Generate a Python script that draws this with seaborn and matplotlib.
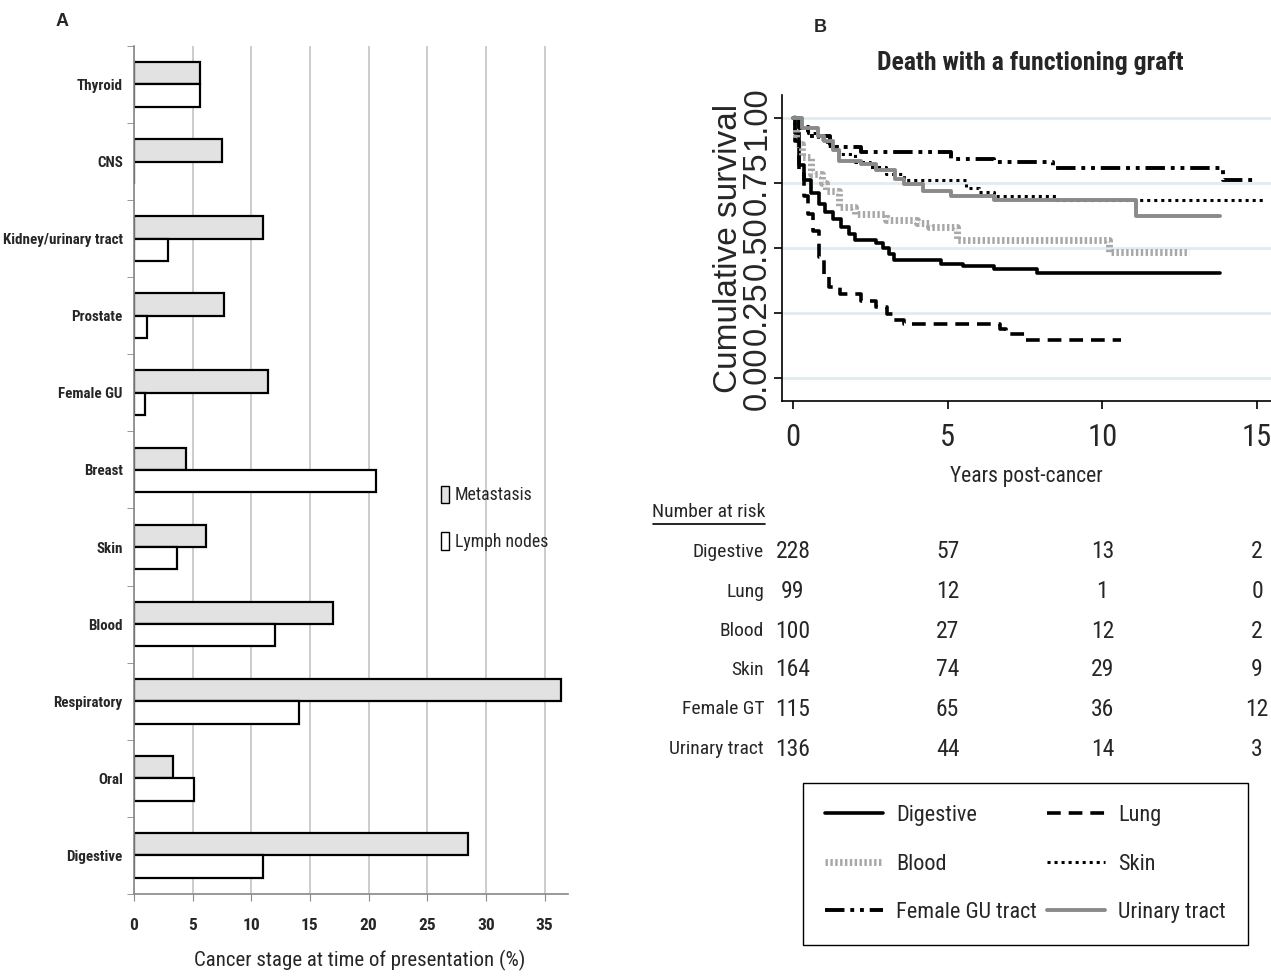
import numpy as np
import pandas as pd
import matplotlib
matplotlib.use("Agg")
import matplotlib.pyplot as plt
import matplotlib.transforms as mtransforms
from matplotlib.patches import Patch
from matplotlib.lines import Line2D
import seaborn as sns

# ---- Panel A data: cancer stage at presentation (%)
sites = ['Thyroid', 'CNS', 'Kidney/urinary tract', 'Prostate', 'Female GU', 'Breast',
         'Skin', 'Blood', 'Respiratory', 'Oral', 'Digestive']
metastasis = [5.6, 7.5, 11.0, 7.7, 11.4, 4.4, 6.1, 17.0, 36.4, 3.3, 28.5]
lymph_nodes = [5.6, 0.0, 2.9, 1.1, 0.9, 20.6, 3.7, 12.0, 14.1, 5.1, 11.0]

# ---- Panel B data: Kaplan-Meier curves (years, cumulative survival)
digestive_t = [0, 0.08, 0.2, 0.37, 0.6, 0.83, 1.05, 1.3, 1.55, 1.8, 2.0, 2.7, 2.9, 3.1, 3.26, 4.8, 5.5, 6.5, 7.9, 13.8]
digestive_s = [1.0, 0.94, 0.82, 0.76, 0.71, 0.67, 0.64, 0.61, 0.58, 0.555, 0.53, 0.52, 0.50, 0.478, 0.452, 0.44, 0.43, 0.42, 0.403, 0.403]
lung_t = [0, 0.08, 0.2, 0.35, 0.49, 0.66, 0.83, 1.0, 1.18, 1.53, 2.2, 2.7, 3.03, 3.26, 3.6, 6.7, 6.9, 7.5, 10.6]
lung_s = [1.0, 0.91, 0.785, 0.70, 0.63, 0.567, 0.465, 0.39, 0.35, 0.324, 0.298, 0.273, 0.247, 0.224, 0.209, 0.19, 0.17, 0.147, 0.147]
blood_t = [0, 0.1, 0.3, 0.6, 0.95, 1.06, 1.5, 2.0, 3.0, 4.0, 4.4, 5.3, 10.2, 12.8]
blood_s = [1.0, 0.9, 0.85, 0.785, 0.75, 0.72, 0.657, 0.63, 0.606, 0.595, 0.58, 0.529, 0.484, 0.484]
skin_t = [0, 0.2, 0.5, 0.8, 1.1, 1.5, 2.0, 2.5, 3.0, 3.6, 5.6, 6.0, 6.5, 8.5, 15.2]
skin_s = [1.0, 0.97, 0.94, 0.92, 0.89, 0.86, 0.83, 0.81, 0.785, 0.76, 0.73, 0.715, 0.70, 0.686, 0.686]
femalegu_t = [0, 0.2, 0.5, 1.2, 2.2, 5.1, 6.5, 8.4, 13.9, 15.0]
femalegu_s = [1.0, 0.96, 0.93, 0.887, 0.868, 0.842, 0.830, 0.808, 0.762, 0.762]
urinary_t = [0, 0.3, 0.8, 1.0, 1.3, 1.5, 2.2, 2.7, 3.3, 3.6, 4.2, 5.1, 6.5, 11.1, 13.8]
urinary_s = [1.0, 0.96, 0.93, 0.91, 0.875, 0.836, 0.823, 0.80, 0.766, 0.746, 0.72, 0.70, 0.686, 0.622, 0.622]

# ---- Number at risk table
risk_groups = ['Digestive', 'Lung', 'Blood', 'Skin', 'Female GT', 'Urinary tract']
risk_times = [0, 5, 10, 15]
risk_digestive = [228, 57, 13, 2]
risk_lung = [99, 12, 1, 0]
risk_blood = [100, 27, 12, 2]
risk_skin = [164, 74, 29, 9]
risk_femalegt = [115, 65, 36, 12]
risk_urinary = [136, 44, 14, 3]

# narrow fonts first, matplotlib uses the first one it finds
NARROW = ['Roboto Condensed', 'Archivo Narrow', 'PT Sans Narrow', 'Open Sans Condensed',
          'Liberation Sans Narrow', 'Liberation Sans', 'DejaVu Sans']
ARIAL = ['Liberation Sans', 'DejaVu Sans']

sns.set_style('white')
plt.rcParams['font.family'] = NARROW

fig = plt.figure(figsize=(12.71, 9.77), dpi=100)

# ================= Panel A =================
axA = fig.add_axes([0.1054, 0.085, 0.3415, 0.868])
df_a = pd.DataFrame({
    'site': sites * 2,
    'measure': ['Metastasis'] * len(sites) + ['Lymph nodes'] * len(sites),
    'value': metastasis + lymph_nodes,
})
axA.set_axisbelow(True)
axA.xaxis.grid(True, color='#c4c4c4', lw=1.2)
sns.barplot(data=df_a, y='site', x='value', hue='measure', order=sites,
            hue_order=['Metastasis', 'Lymph nodes'],
            palette={'Metastasis': '#e2e2e2', 'Lymph nodes': 'white'},
            edgecolor='black', linewidth=1.6, width=0.58, legend=False, ax=axA)
axA.set_xlim(0, 37)
axA.set_ylim(10.5, -0.5)
axA.set_xticks(np.arange(0, 36, 5))
axA.set_xticklabels([str(v) for v in range(0, 36, 5)], fontsize=12.5, fontweight='bold')
axA.set_yticks(range(len(sites)))
axA.set_yticklabels(sites, fontsize=10.8, fontweight='bold')
axA.set_yticks(np.arange(-0.5, len(sites), 1), minor=True)
axA.tick_params(axis='y', which='major', length=0, pad=8)
axA.tick_params(axis='y', which='minor', length=5, color='#888888', left=True)
axA.tick_params(axis='x', length=5, color='#888888', bottom=True, pad=12)
axA.set_ylabel('')
axA.set_xlabel('Cancer stage at time of presentation (%)', fontsize=15)
axA.xaxis.set_label_coords(0.52, -0.066)
for s in ['top', 'right']:
    axA.spines[s].set_visible(False)
for s in ['left', 'bottom']:
    axA.spines[s].set_color('#888888')
    axA.spines[s].set_linewidth(1.2)
axA.legend(handles=[Patch(facecolor='#e2e2e2', edgecolor='black'),
                    Patch(facecolor='white', edgecolor='black')],
           labels=['Metastasis', 'Lymph nodes'], loc='upper left',
           bbox_to_anchor=(0.69, 0.49), frameon=False, fontsize=12.8,
           handlelength=0.5, handleheight=1.15, handletextpad=0.3,
           labelspacing=1.55, borderaxespad=0)
fig.text(62 / 1271, 1 - 22 / 977, 'A', fontsize=13, fontweight='bold',
         ha='center', va='center', family=ARIAL)

# ================= Panel B =================
axB = fig.add_axes([0.6153, 0.5896, 0.3847, 0.3132])
curves = [
    ('Digestive', digestive_t, digestive_s, dict(color='black', lw=2.6, ls='-')),
    ('Blood', blood_t, blood_s, dict(color='#a8a8a8', lw=5, ls=(0, (0.35, 0.35)))),
    ('Female GU tract', femalegu_t, femalegu_s, dict(color='black', lw=2.8, ls=(0, (5, 1.5, 1, 1.5, 1, 1.5)))),
    ('Lung', lung_t, lung_s, dict(color='black', lw=2.6, ls=(0, (3.8, 2.2)))),
    ('Skin', skin_t, skin_s, dict(color='black', lw=2.2, ls=(0, (1, 1.3)))),
    ('Urinary tract', urinary_t, urinary_s, dict(color='#8a8a8a', lw=2.8, ls='-')),
]
axB.yaxis.grid(True, color='#e1ebf0', lw=2)
axB.set_axisbelow(True)
handles_b = []
for name, t, s, st in curves:
    sns.lineplot(x=t, y=s, drawstyle='steps-post', estimator=None, sort=False,
                 color=st['color'], lw=st['lw'], ls=st['ls'], ax=axB)
    handles_b.append(Line2D([], [], color=st['color'], lw=st['lw'], ls=st['ls']))
axB.set_xlim(-0.35, 15.45)
axB.set_ylim(-0.088, 1.088)
axB.set_xticks(risk_times)
axB.set_xticklabels([str(v) for v in risk_times], fontsize=22)
axB.set_yticks([0, 0.25, 0.5, 0.75, 1.0])
axB.set_yticklabels(['0.00', '0.25', '0.50', '0.75', '1.00'], rotation=90,
                    va='center', fontsize=23.5, family=ARIAL)
axB.tick_params(axis='both', length=6, width=1.2, color='black', left=True, bottom=True)
axB.tick_params(axis='y', pad=1)
axB.tick_params(axis='x', pad=10)
axB.set_ylabel('Cumulative survival', fontsize=24, family=ARIAL, labelpad=-2)
axB.set_xlabel('Years post-cancer', fontsize=15.5, labelpad=10)
for s in ['top', 'right']:
    axB.spines[s].set_visible(False)
for s in ['left', 'bottom']:
    axB.spines[s].set_color('black')
    axB.spines[s].set_linewidth(1.2)

fig.text(1030 / 1271, 1 - 63 / 977, 'Death with a functioning graft', fontsize=18.5,
         fontweight='bold', ha='center', va='center')
fig.text(820 / 1271, 1 - 27 / 977, 'B', fontsize=13, fontweight='bold',
         ha='center', va='center', family=ARIAL)

# Number at risk table
trans = mtransforms.blended_transform_factory(axB.transData, fig.transFigure)
fig.text(709 / 1271, 1 - 512 / 977, 'Number at risk', fontsize=14, ha='center', va='center')
fig.add_artist(Line2D([653 / 1271, 765 / 1271], [1 - 524 / 977] * 2, color='black', lw=1.2))
risk_rows = [risk_digestive, risk_lung, risk_blood, risk_skin, risk_femalegt, risk_urinary]
row_y = [552, 592, 631, 670, 709, 749]
for name, vals, yy in zip(risk_groups, risk_rows, row_y):
    fig.text(764 / 1271, 1 - yy / 977, name, fontsize=14, ha='right', va='center')
    for t, v in zip(risk_times, vals):
        axB.text(t, 1 - yy / 977, str(v), transform=trans, fontsize=17,
                 ha='center', va='center', clip_on=False)

names_b = [c[0] for c in curves]
fig.legend(handles_b, names_b, ncol=2, loc='upper left',
           bbox_to_anchor=(803 / 1271, 1 - 783 / 977), borderaxespad=0, fontsize=16,
           frameon=True, fancybox=False, edgecolor='black', framealpha=1,
           handlelength=2.6, handletextpad=0.6, columnspacing=0.45,
           labelspacing=1.23, borderpad=1.0)

plt.savefig('out.png', dpi=100)
